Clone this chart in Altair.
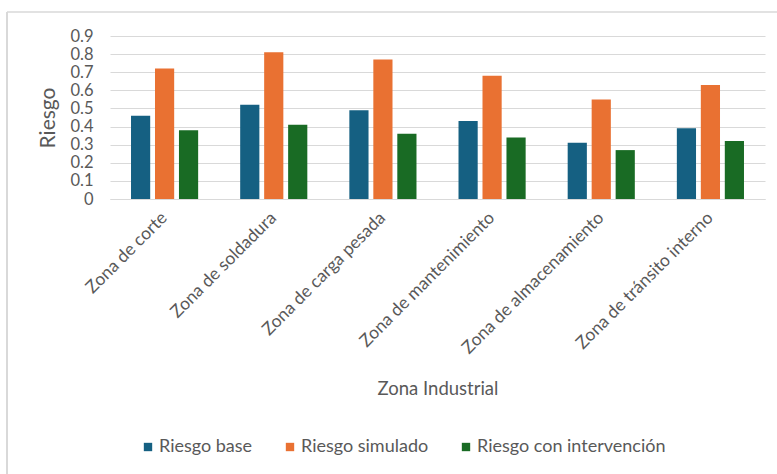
import altair as alt
import pandas as pd

zonas = ["Zona de corte", "Zona de soldadura", "Zona de carga pesada",
         "Zona de mantenimiento", "Zona de almacenamiento", "Zona de tránsito interno"]
riesgo_base = [0.46, 0.52, 0.49, 0.43, 0.31, 0.39]
riesgo_simulado = [0.72, 0.81, 0.77, 0.68, 0.55, 0.63]
riesgo_intervencion = [0.38, 0.41, 0.36, 0.34, 0.27, 0.32]
series = ["Riesgo base", "Riesgo simulado", "Riesgo con intervención"]
colores = ["#156082", "#E97132", "#196B24"]

rows = []
for i, z in enumerate(zonas):
    for s, vals in zip(series, [riesgo_base, riesgo_simulado, riesgo_intervencion]):
        rows.append({"Zona": z, "Serie": s, "Valor": vals[i]})
df = pd.DataFrame(rows)

FONT = "Lato"
GRAY = "#595959"

bars = alt.Chart(df).mark_bar().encode(
    x=alt.X("Zona:N", sort=zonas,
            scale=alt.Scale(paddingInner=0.385, paddingOuter=0.1925),
            axis=alt.Axis(title="Zona Industrial", labelAngle=-45, labelAlign="right",
                          labelBaseline="middle", labelFontSize=17.5, labelColor=GRAY,
                          labelPadding=16, labelLimit=0, ticks=False, domainColor="#d9d9d9",
                          titleFontSize=18.5, titleColor=GRAY, titleFontWeight="normal",
                          titleY=189, titleBaseline="middle")),
    xOffset=alt.XOffset("Serie:N", sort=series,
                        scale=alt.Scale(paddingInner=0.2, paddingOuter=0)),
    y=alt.Y("Valor:Q", scale=alt.Scale(domain=[0, 0.9], nice=False),
            axis=alt.Axis(title="Riesgo", values=[i / 10 for i in range(10)],
                          format=".1~f", labelFontSize=16.5, labelColor=GRAY,
                          labelPadding=17, ticks=False, domain=False,
                          gridColor="#d9d9d9", gridWidth=1.2,
                          titleFontSize=21, titleColor=GRAY, titleFontWeight="normal",
                          titleX=-62, titleBaseline="middle")),
    color=alt.Color("Serie:N", sort=series,
                    scale=alt.Scale(domain=series, range=colores),
                    legend=alt.Legend(title=None, orient="none", direction="horizontal",
                                      legendX=29, legendY=402, symbolType="square",
                                      symbolSize=70, symbolStrokeWidth=0,
                                      labelFontSize=18, labelColor=GRAY, labelLimit=0,
                                      labelOffset=2, columnPadding=28)),
)

frame_df = pd.DataFrame({"a": [0]})
left_line = alt.Chart(frame_df).mark_rule(color="#d9d9d9", strokeWidth=2).encode(
    x=alt.value(-103), y=alt.value(-24), y2=alt.value(440))
top_line = alt.Chart(frame_df).mark_rule(color="#d9d9d9", strokeWidth=1.5).encode(
    x=alt.value(-103), x2=alt.value(680), y=alt.value(-24))

chart = alt.layer(bars, left_line, top_line).properties(
    width=655, height=163,
    autosize=alt.AutoSizeParams(type="none"),
    padding={"left": 110, "top": 36, "right": 12, "bottom": 275},
    background="white",
).configure(font=FONT).configure_view(stroke=None)

chart.save("out.html", embed_options={"renderer": "svg", "actions": False})
